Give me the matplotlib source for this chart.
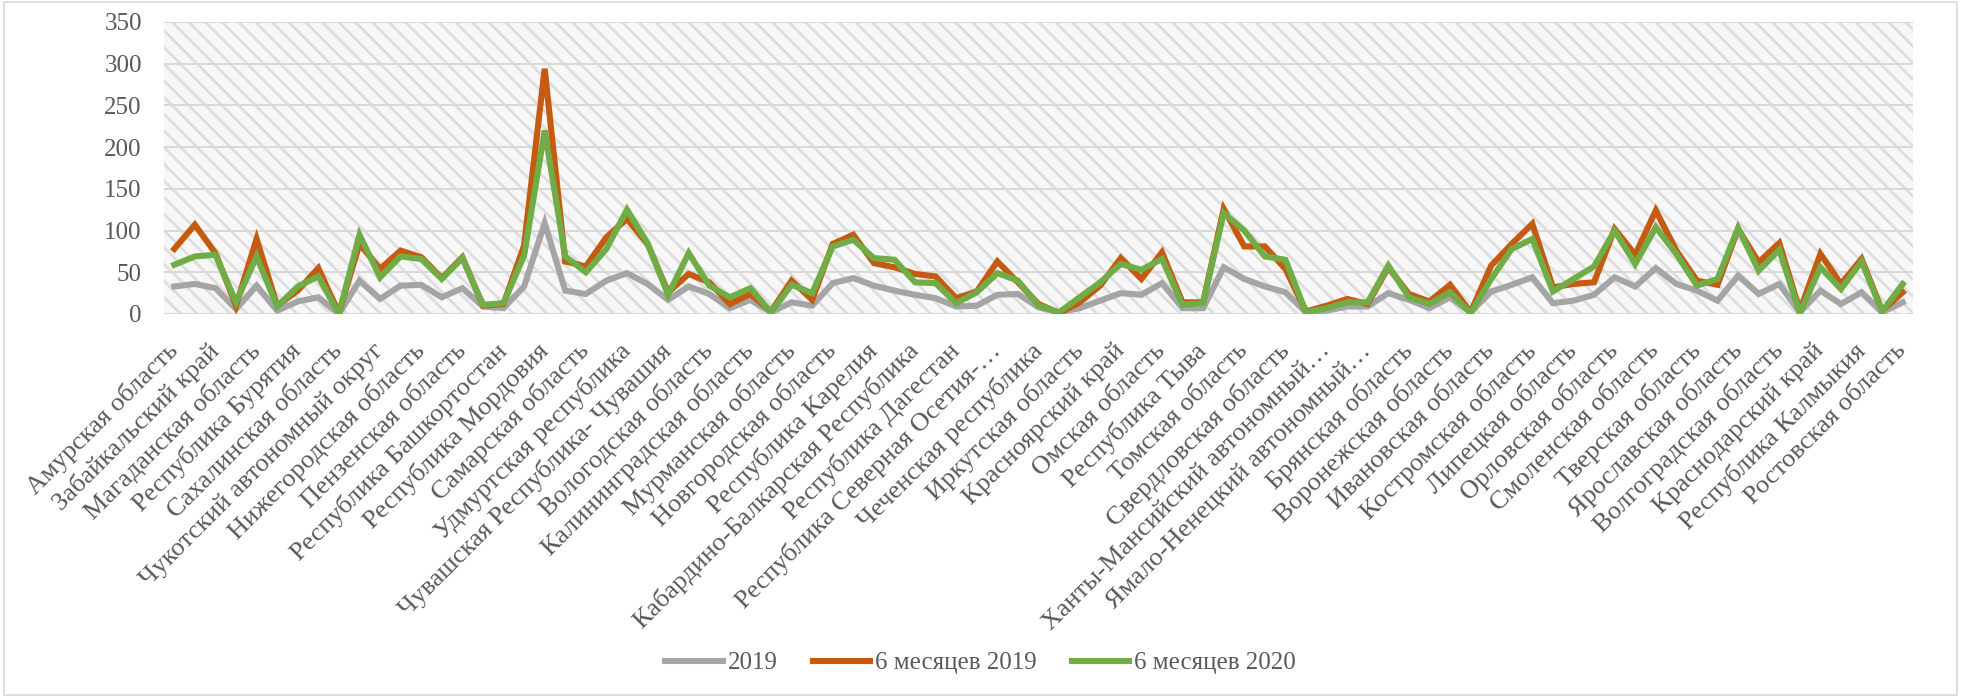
import numpy as np
import matplotlib
matplotlib.use('Agg')
import matplotlib.pyplot as plt
from matplotlib.patches import Rectangle

# Regions (label shown on every second category)
labels = ['Амурская область', 'Забайкальский край', 'Магаданская область',
          'Республика Бурятия', 'Сахалинская область', 'Чукотский автономный округ',
          'Нижегородская область', 'Пензенская область', 'Республика Башкортостан',
          'Республика Мордовия', 'Самарская область', 'Удмуртская республика',
          'Чувашская Республика- Чувашия', 'Вологодская область',
          'Калининградская область', 'Мурманская область', 'Новгородская область',
          'Республика Карелия', 'Кабардино-Балкарская Республика',
          'Республика Дагестан', 'Республика Северная Осетия-…',
          'Чеченская республика', 'Иркутская область', 'Красноярский край',
          'Омская область', 'Республика Тыва', 'Томская область',
          'Свердловская область', 'Ханты-Мансийский автономный…',
          'Ямало-Ненецкий автономный…', 'Брянская область', 'Воронежская область',
          'Ивановская область', 'Костромская область', 'Липецкая область',
          'Орловская область', 'Смоленская область', 'Тверская область',
          'Ярославская область', 'Волгоградская область', 'Краснодарский край',
          'Республика Калмыкия', 'Ростовская область']

y2019 = [33, 36, 31, 6, 34, 4, 15, 20, 0, 40, 18, 34, 35, 20, 31, 9, 7, 33, 109, 28,
         24, 40, 49, 36, 17, 33, 24, 7, 17, 2, 14, 10, 37, 43, 34, 28, 23, 19, 9, 10,
         23, 24, 8, 2, 7, 16, 25, 23, 37, 7, 7, 56, 42, 33, 26, 2, 4, 9, 9, 25,
         17, 7, 20, 2, 27, 35, 44, 13, 16, 23, 44, 33, 55, 36, 28, 16, 46, 24, 36, 2,
         28, 12, 26, 2, 14]
h1_2019 = [78, 107, 73, 10, 90, 10, 28, 55, 1, 84, 54, 76, 68, 43, 68, 10, 12, 82, 294, 63,
           57, 92, 114, 84, 26, 48, 38, 12, 24, 3, 40, 17, 84, 95, 61, 56, 48, 45, 19, 27,
           63, 38, 12, 1, 14, 34, 67, 42, 74, 14, 14, 126, 81, 81, 54, 3, 10, 18, 12, 56,
           24, 15, 35, 2, 58, 84, 108, 32, 36, 38, 102, 71, 124, 76, 40, 35, 102, 62, 85, 4,
           72, 36, 66, 4, 26]
h1_2020 = [59, 69, 71, 14, 69, 9, 33, 45, 0, 95, 44, 69, 66, 42, 67, 11, 13, 70, 220, 69,
           50, 78, 125, 85, 23, 73, 34, 20, 31, 2, 35, 25, 81, 89, 67, 65, 38, 37, 13, 26,
           49, 40, 10, 2, 20, 38, 60, 53, 66, 11, 13, 121, 100, 69, 65, 2, 7, 14, 14, 58,
           20, 12, 26, 1, 42, 78, 90, 27, 42, 57, 100, 60, 104, 72, 34, 42, 103, 52, 77, 1,
           56, 30, 63, 3, 36]

series = ['2019', '6 месяцев 2019', '6 месяцев 2020']
colors = ['#A5A5A5', '#C55A11', '#70AD47']

plt.rcParams['font.family'] = ['Liberation Serif', 'DejaVu Serif']
plt.rcParams['hatch.color'] = '#dedede'
plt.rcParams['hatch.linewidth'] = 2.0
txt = '#595959'

fig = plt.figure(figsize=(19.61, 6.97), dpi=100)
ax = fig.add_axes([164 / 1961, 1 - 314 / 697, (1913 - 164) / 1961, (314 - 22) / 697])

# hatched plot area
ax.add_patch(Rectangle((0, 0), 1, 1, transform=ax.transAxes, facecolor='#f7f7f7',
                       edgecolor='#dedede', hatch='\\\\', lw=0, zorder=0))

x = np.arange(len(y2019))
for vals, name, c in zip([y2019, h1_2019, h1_2020], series, colors):
    ax.plot(x, vals, color=c, lw=4.4, label=name, solid_joinstyle='miter', zorder=3)

ax.set_xlim(-0.5, len(x) - 0.5)
ax.set_ylim(0, 350)
ax.set_yticks(range(0, 351, 50))
ax.yaxis.grid(True, color='#d9d9d9', lw=1.4, zorder=1)
ax.set_axisbelow(True)
for s in ax.spines.values():
    s.set_visible(False)

ax.set_xticks(x[::2])
ax.set_xticklabels(labels, rotation=45, ha='right', va='center', rotation_mode='anchor')
ax.tick_params(axis='x', length=0, pad=24, labelsize=19, labelcolor=txt)
ax.tick_params(axis='y', length=0, pad=16, labelsize=18, labelcolor=txt)

fig.legend(loc='center', bbox_to_anchor=(0.5, 1 - 663 / 697), ncol=3, frameon=False,
           fontsize=18, labelcolor=txt, handlelength=2.3, handletextpad=0.2,
           columnspacing=1.4)

# chart border
fig.add_artist(Rectangle((4 / 1961, 2 / 697), 1 - 8 / 1961, 1 - 4 / 697,
                         transform=fig.transFigure, fill=False, edgecolor='#d9d9d9', lw=1.2))

fig.savefig('out.png', dpi=100)
plt.close()
